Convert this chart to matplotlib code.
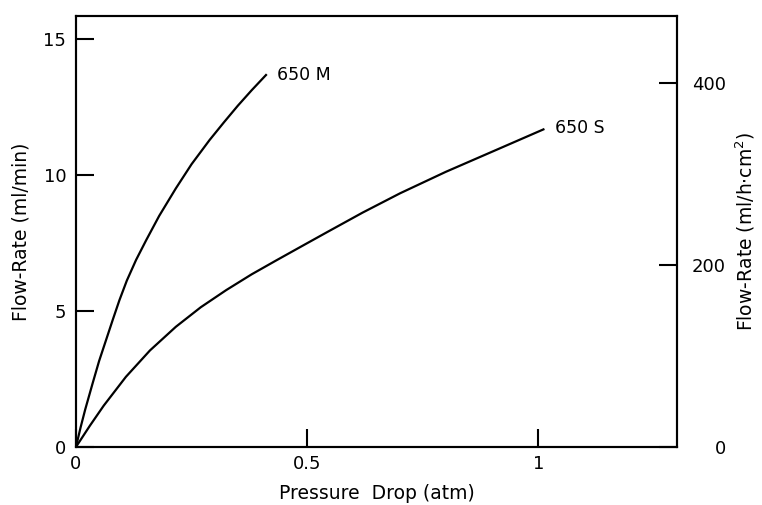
import matplotlib
matplotlib.use("Agg")
import matplotlib.pyplot as plt

plt.rcParams['font.family'] = ['DejaVu Sans']

# Data
m_x = [0, 0.01, 0.02, 0.036, 0.05, 0.065, 0.08, 0.094, 0.11, 0.130, 0.152,
       0.18, 0.216, 0.25, 0.289, 0.32, 0.35, 0.38, 0.411]
m_y = [0, 0.72, 1.38, 2.34, 3.16, 3.93, 4.70, 5.40, 6.12, 6.88, 7.61,
       8.50, 9.51, 10.40, 11.29, 11.94, 12.55, 13.12, 13.68]
s_x = [0, 0.03, 0.06, 0.108, 0.16, 0.216, 0.27, 0.325, 0.38, 0.433, 0.49,
       0.543, 0.62, 0.701, 0.80, 0.911, 1.011]
s_y = [0, 0.78, 1.52, 2.58, 3.55, 4.42, 5.14, 5.77, 6.35, 6.86, 7.40,
       7.90, 8.62, 9.33, 10.12, 10.94, 11.68]
labels = ["650 M", "650 S"]
x_ticks = [0, 0.5, 1]
x_tick_labels = ["0", "0.5", "1"]
y_ticks = [0, 5, 10, 15]
y2_ticks = [0, 200, 400]
ratio = 29.9  # ml/h·cm² per ml/min

fig = plt.figure(figsize=(7.62, 5.05), dpi=100)
ax = fig.add_axes([0.0997, 0.1149, 0.7888, 0.8534])
ax.plot(m_x, m_y, color='black', lw=1.6, solid_joinstyle='round')
ax.plot(s_x, s_y, color='black', lw=1.6, solid_joinstyle='round')
ax.text(0.435, 13.68, labels[0], fontsize=12.5, va='center', ha='left')
ax.text(1.037, 11.73, labels[1], fontsize=12.5, va='center', ha='left')

ymax = 15.85
ax.set_xlim(0, 1.3)
ax.set_ylim(0, ymax)
ax.set_xticks(x_ticks)
ax.set_xticklabels(x_tick_labels)
ax.set_yticks(y_ticks)
for sp in ax.spines.values():
    sp.set_linewidth(1.5)
ax.tick_params(axis='both', direction='in', length=13, width=1.5, labelsize=13)
ax.tick_params(axis='y', pad=7, right=False)
ax.tick_params(axis='x', pad=6, top=False)
ax.set_xlabel("Pressure  Drop (atm)", fontsize=13.5, labelpad=8)
ax.set_ylabel("Flow-Rate (ml/min)", fontsize=13.5, labelpad=9)

ax2 = ax.twinx()
ax2.set_ylim(0, ymax * ratio)
ax2.set_yticks(y2_ticks)
ax2.tick_params(axis='y', direction='in', length=13, width=1.5, labelsize=13, pad=35)
for lbl in ax2.get_yticklabels():
    lbl.set_horizontalalignment('right')
for sp in ax2.spines.values():
    sp.set_linewidth(1.5)
ax2.set_ylabel("Flow-Rate (ml/h$\\cdot$cm$^2$)", fontsize=13.5, labelpad=6)

fig.savefig("out.png", dpi=100)
